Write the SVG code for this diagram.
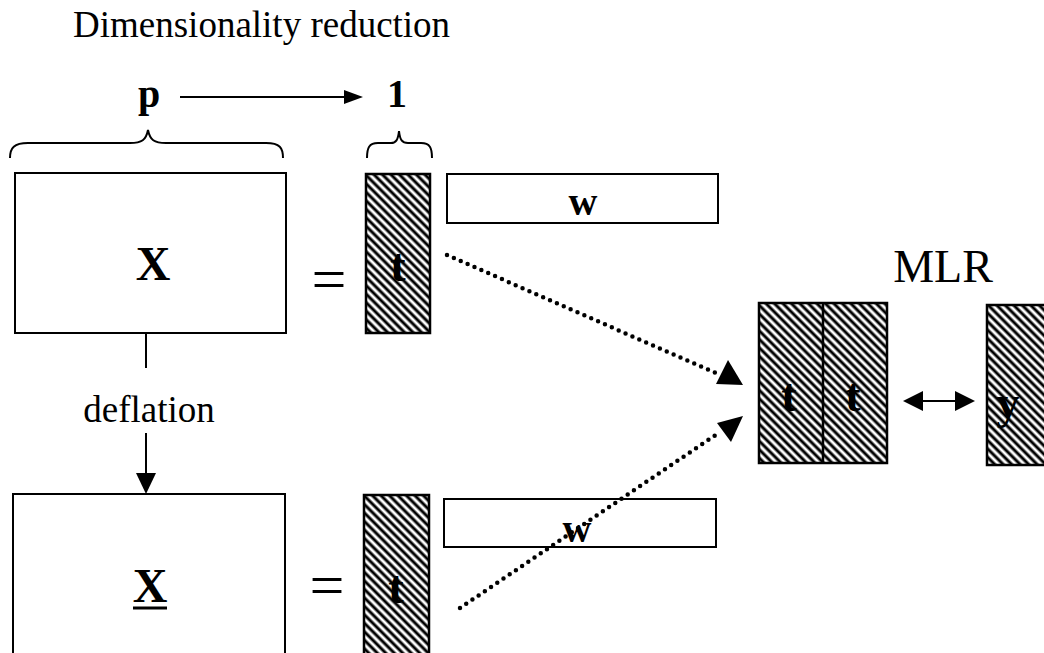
<svg xmlns="http://www.w3.org/2000/svg" width="1044" height="653" viewBox="0 0 1044 653">
<style>
.serif{font-family:"Liberation Serif","Times New Roman",serif;fill:#000}
.b{font-weight:bold}
.box{fill:#fff;stroke:#000;stroke-width:2}
.hbox{fill:url(#hatch);stroke:#000;stroke-width:2.5}
.line{stroke:#000;stroke-width:2;fill:none}
.dot{stroke:#000;stroke-width:4.5;stroke-linecap:round;stroke-dasharray:0 7.5;fill:none}
.head{fill:#000}
</style>
<defs>
<pattern id="hatch" width="12" height="6" patternUnits="userSpaceOnUse" patternTransform="rotate(45)">
<rect width="12" height="6" fill="#fff"/>
<line x1="0" y1="3" x2="12" y2="3" stroke="#000" stroke-width="3"/>
</pattern>
</defs>
<rect width="1044" height="653" fill="#fff"/>

<g id="title"><text class="serif" x="73" y="37" font-size="37">Dimensionality reduction</text></g>

<g id="dims">
<text class="serif b" x="149" y="107" font-size="40" text-anchor="middle">p</text>
<text class="serif b" x="397" y="107" font-size="40" text-anchor="middle">1</text>
<path class="line" d="M10,158 C10,148 14,143 28,143 L130,143 C142,143 146,140 148,130 C150,140 154,143 166,143 L266,143 C280,143 283,148 283,158"/>
<path class="line" d="M367,158 C367,148 369,143 378,143 L391,143 C396,143 398,140 399,131 C400,140 402,143 408,143 L421,143 C430,143 432,148 432,158"/>
</g>

<g id="X1">
<rect class="box" x="15" y="173" width="271" height="160"/>
<text class="serif b" x="153" y="280" font-size="48" text-anchor="middle">X</text>
</g>
<g id="eq1"><text class="serif" x="329" y="300" font-size="62" text-anchor="middle">=</text></g>
<g id="t1">
<rect class="hbox" x="366" y="174" width="64" height="159"/>
<text class="serif b" x="398" y="281" font-size="46" text-anchor="middle">t</text>
</g>
<g id="w1">
<rect class="box" x="447" y="174" width="271" height="49"/>
<text class="serif b" x="583" y="215" font-size="40" text-anchor="middle">w</text>
</g>

<g id="deflation"><text class="serif" x="149" y="422" font-size="37" text-anchor="middle">deflation</text></g>

<g id="X2">
<rect class="box" x="13" y="494" width="272" height="180"/>
<text class="serif b" x="150" y="602" font-size="48" text-anchor="middle">X</text>
<line x1="133" y1="608" x2="167" y2="608" stroke="#000" stroke-width="3"/>
</g>
<g id="eq2"><text class="serif" x="327" y="606" font-size="62" text-anchor="middle">=</text></g>
<g id="t2">
<rect class="hbox" x="364" y="495" width="65" height="180"/>
<text class="serif b" x="396" y="603" font-size="46" text-anchor="middle">t</text>
</g>
<g id="w2">
<rect class="box" x="444" y="499" width="272" height="48"/>
<text class="serif b" x="577" y="542" font-size="40" text-anchor="middle">w</text>
</g>

<g id="MLR"><text class="serif" x="943" y="282" font-size="46" text-anchor="middle">MLR</text></g>
<g id="tt">
<rect class="hbox" x="759" y="303" width="128" height="160"/>
<line x1="823" y1="303" x2="823" y2="463" stroke="#000" stroke-width="2.5"/>
<text class="serif b" x="789" y="411" font-size="46" text-anchor="middle">t</text>
<text class="serif b" x="853" y="411" font-size="46" text-anchor="middle">t</text>
</g>
<g id="y">
<rect class="hbox" x="987" y="305" width="60" height="160"/>
<text class="serif b" x="1008" y="418" font-size="46" text-anchor="middle">y</text>
</g>

<g id="connectors">
<line class="line" x1="180" y1="97" x2="346" y2="97"/>
<polygon class="head" points="363,97 344,90 344,104"/>
<line class="line" x1="146" y1="333" x2="146" y2="368"/>
<line class="line" x1="146" y1="433" x2="146" y2="476"/>
<polygon class="head" points="146,494 136,473 156,473"/>
<line class="dot" x1="447" y1="255" x2="718" y2="374"/>
<polygon class="head" points="743,385 716,384 728,360"/>
<line class="dot" x1="460" y1="608" x2="720" y2="432"/>
<polygon class="head" points="743,416 717,423 731,442"/>
<line class="line" x1="918" y1="401" x2="960" y2="401"/>
<polygon class="head" points="903,401 923,391 923,411"/>
<polygon class="head" points="975,401 955,391 955,411"/>
</g>
</svg>
